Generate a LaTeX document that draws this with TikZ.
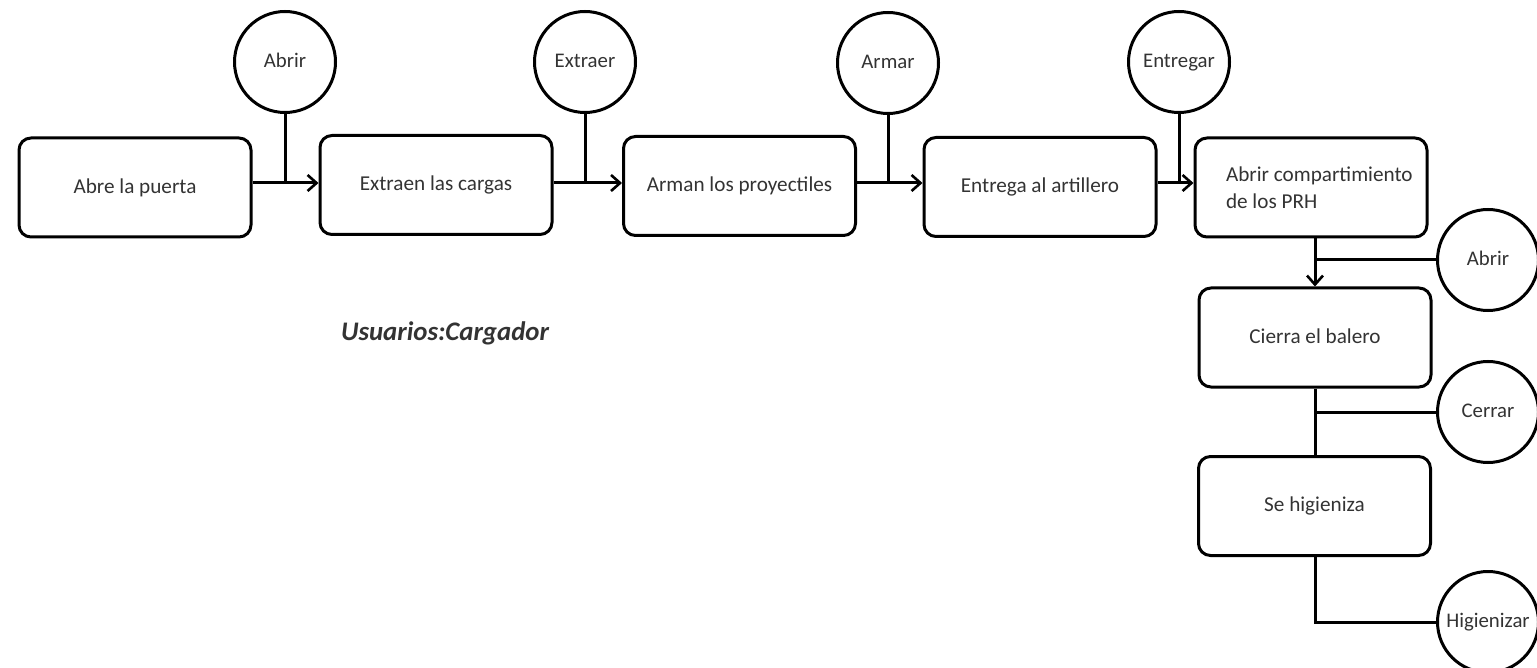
\documentclass[tikz,border=0pt]{standalone}
\usepackage{fontspec}
\setmainfont{Carlito}
\usetikzlibrary{arrows.meta}
\begin{document}
\begin{tikzpicture}[x=0.5pt,y=-0.5pt,
  line width=1.5pt,
  stepbox/.style={draw, rounded corners=6pt, minimum width=116pt, minimum height=49.5pt,
    inner sep=0pt, font=\fontsize{10.6}{13.5}\selectfont, text=black!80},
  oneline/.style={text height=1.5ex, text depth=0.3ex},
  verb/.style={draw, circle, minimum size=50.5pt, inner sep=0pt,
    font=\fontsize{10.4}{12}\selectfont, text=black!80, text height=1.5ex, text depth=0.3ex},
  arr/.style={-{Straight Barb[length=4.5pt,width=8pt,line width=1.3pt]}}]
\useasboundingbox (0,0) rectangle (1537,668);

% process steps
\node[stepbox, oneline] (b1) at (135,187.5) {Abre la puerta};
\node[stepbox, oneline] (b2) at (436,185) {Extraen las cargas};
\node[stepbox, oneline] (b3) at (739.5,186) {Arman los proyectiles};
\node[stepbox, oneline] (b4) at (1040,187) {Entrega al artillero};
\node[stepbox] (b5) at (1311,187.5)
  {\hspace*{15pt}\raisebox{-6pt}{\parbox{100pt}{\raggedright\mbox{Abrir compartimiento}\\de los PRH}}};
\node[stepbox, oneline] (b6) at (1315,337.5) {Cierra el balero};
\node[stepbox, oneline] (b7) at (1314.5,506) {Se higieniza};

% actions
\node[verb] (c1) at (285,62) {Abrir};
\node[verb] (c2) at (585,62) {Extraer};
\node[verb] (c3) at (888,63) {Armar};
\node[verb] (c4) at (1179,62) {Entregar};
\node[verb] (c5) at (1488,260) {Abrir};
\node[verb] (c6) at (1488,412) {Cerrar};
\node[verb] (c7) at (1488,622) {Higienizar};

% junction points
\coordinate (j1) at (285,183);
\coordinate (j2) at (585,183);
\coordinate (j3) at (888,183);
\coordinate (j4) at (1179,183);
\coordinate (j5) at (1315,260);
\coordinate (j6) at (1315,412);
\coordinate (j7) at (1315,622);

% horizontal flow
\draw[arr] (b1.east |- j1) -- (b2.west |- j1);
\draw[arr] (b2.east |- j2) -- (b3.west |- j2);
\draw[arr] (b3.east |- j3) -- (b4.west |- j3);
\draw[arr] (b4.east |- j4) -- (b5.west |- j4);
\draw (c1.south) -- (j1);
\draw (c2.south) -- (j2);
\draw (c3.south) -- (j3);
\draw (c4.south) -- (j4);

% vertical flow
\draw[arr] (j5 |- b5.south) -- (j5 |- b6.north);
\draw (c5.west) -- (j5);
\draw (j6 |- b6.south) -- (j6 |- b7.north);
\draw (c6.west) -- (j6);
\draw[line join=miter] (j7 |- b7.south) -- (j7) -- (c7.west);

\node[font=\fontsize{13.4}{16}\selectfont\bfseries\itshape, text=black!80] (user) at (445,333) {Usuarios:Cargador};
\end{tikzpicture}
\end{document}
